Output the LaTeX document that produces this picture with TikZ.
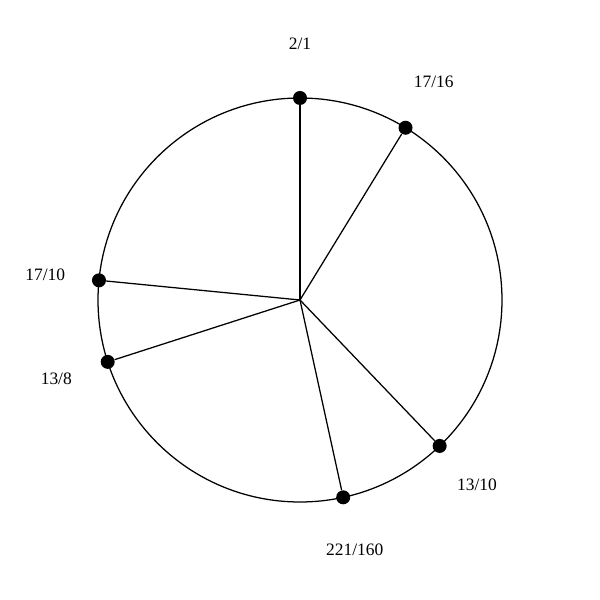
\documentclass[tikz,border=0pt]{standalone}
\usepackage{fontspec}
\setmainfont{Liberation Serif}
\usetikzlibrary{calc}
\begin{document}
\begin{tikzpicture}[x=0.025cm,y=0.025cm,
  dot/.style={circle,fill=black,inner sep=0pt,minimum size=0.35cm},
  lbl/.style={font=\fontsize{12.4}{14}\selectfont,inner sep=0pt},
  edge/.style={line width=0.9pt}]
\useasboundingbox (0,0) rectangle (600,600);
\coordinate (c) at (300,300);
\draw[edge] (c) circle[radius=202];
\foreach \n/\cents/\txt in {a/0/2\slash 1, b/104.96/17\slash 16, d/454.21/13\slash 10, e/558.83/221\slash 160, f/840.53/13\slash 8, g/918.64/17\slash 10}{
  \pgfmathsetmacro{\ang}{90-\cents*0.3}
  \node[dot] (\n) at ($(c)+(\ang:202)$) {};
  \draw[edge] (c) -- (\n);
  \node[lbl] (l\n) at ($(c)+(\ang:256)$) {\txt};
}
\end{tikzpicture}
\end{document}
